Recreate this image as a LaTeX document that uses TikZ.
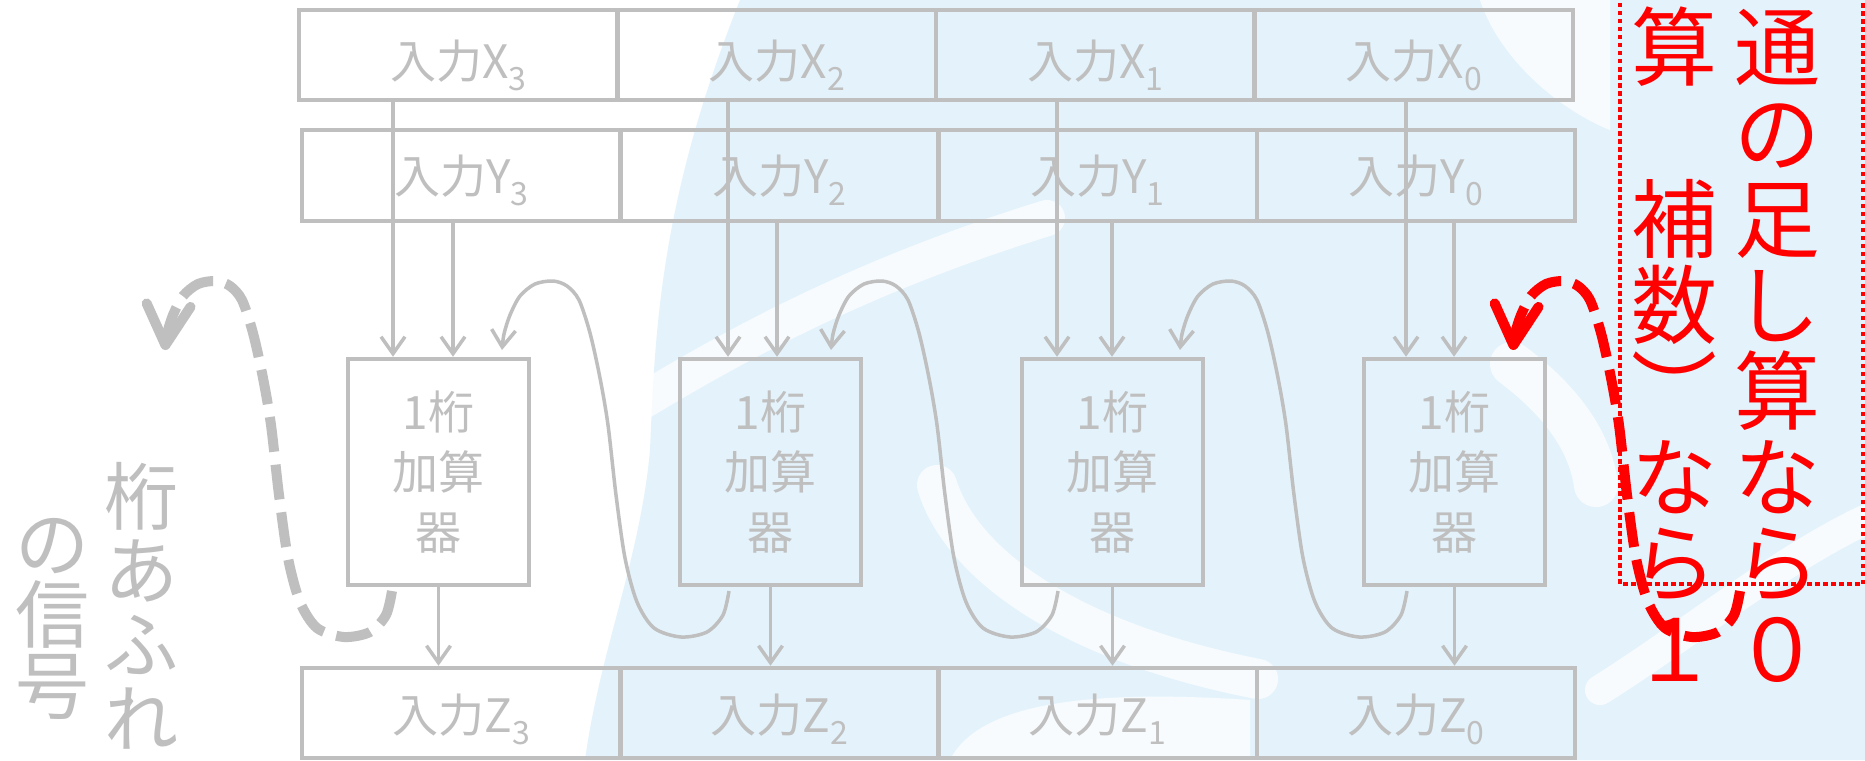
\documentclass[tikz,border=0pt]{standalone}
\usepackage{fontspec}
\setmainfont{Noto Sans CJK JP}
\usetikzlibrary{arrows.meta}
\definecolor{lg}{HTML}{BFBFBF}
\definecolor{bgblue}{HTML}{E4F3FB}
\newcommand\lsub[1]{\raisebox{-12pt}{\fontsize{32}{32}\selectfont #1}}
\begin{document}
\begin{tikzpicture}[x=1pt,y=-1pt,
  cell/.style={draw=lg, line width=4.5pt, inner sep=0pt, text=lg,
    font=\fontsize{46}{46}\selectfont, minimum height=90pt},
  xcell/.style={cell, minimum width=318.5pt, text height=48pt, text depth=2pt},
  ycell/.style={cell, minimum width=318.25pt, minimum height=91pt, text height=38.5pt, text depth=3.5pt},
  zcell/.style={cell, minimum width=318.25pt, text height=41pt, text depth=3pt},
  adder/.style={draw=lg, line width=4.5pt, inner sep=0pt, text=lg, align=center,
    font=\fontsize{46}{60}\selectfont, minimum width=181pt, minimum height=226pt},
  arr/.style={draw=lg, line width=3.5pt, -{Straight Barb[length=17pt,width=24pt]}},
  gdash/.style={draw=lg, line width=10pt, dash pattern=on 35pt off 13pt,
    -{Straight Barb[length=40pt,width=44pt,round]}},
  rdash/.style={gdash, draw=red},
  rtext/.style={text=red, inner sep=0pt, anchor=base, font=\fontsize{86}{86}\selectfont},
  gtext/.style={text=lg, inner sep=0pt, anchor=base, font=\fontsize{74}{74}\selectfont},
  swirl/.style={white, opacity=0.75, line cap=round},
]
\useasboundingbox (0,0) rectangle (1865,760);
\fill[white] (0,0) rectangle (1865,760);
% watermark background
\fill[bgblue] (740,0) -- (1865,0) -- (1865,760) -- (585,760)
  .. controls (600,650) and (640,560) .. (650,450)
  .. controls (655,330) and (660,200) .. (740,0) -- cycle;
\draw[swirl, line width=36pt] (641,402) .. controls (760,330) and (880,270) .. (1047,218);
\draw[swirl, line width=40pt] (937,485) .. controls (960,560) and (1060,640) .. (1258,679);
\draw[swirl, line width=44pt] (1512,364) .. controls (1560,400) and (1590,440) .. (1596,485);
\fill[swirl] (1480,0) .. controls (1500,60) and (1560,110) .. (1610,130) -- (1610,0) -- cycle;
\fill[swirl] (950,760) .. controls (980,700) and (1100,690) .. (1250,700) -- (1250,760) -- cycle;
\draw[swirl, line width=30pt] (1600,690) .. controls (1680,640) and (1780,560) .. (1865,520);

% input / output rows
\node[xcell] (x3) at (458.25,55) {入力X\lsub{3}};
\node[xcell] (x2) at (776.75,55) {入力X\lsub{2}};
\node[xcell] (x1) at (1095.25,55) {入力X\lsub{1}};
\node[xcell] (x0) at (1413.75,55) {入力X\lsub{0}};
\node[ycell] (y3) at (461.125,175.5) {入力Y\lsub{3}};
\node[ycell] (y2) at (779.375,175.5) {入力Y\lsub{2}};
\node[ycell] (y1) at (1097.625,175.5) {入力Y\lsub{1}};
\node[ycell] (y0) at (1415.875,175.5) {入力Y\lsub{0}};
\node[zcell] (z3) at (461.125,713) {入力Z\lsub{3}};
\node[zcell] (z2) at (779.375,713) {入力Z\lsub{2}};
\node[zcell] (z1) at (1097.625,713) {入力Z\lsub{1}};
\node[zcell] (z0) at (1415.875,713) {入力Z\lsub{0}};

% adders
\node[adder] (a3) at (438.5,472) {1桁\\加算\\器};
\node[adder] (a2) at (770.5,472) {1桁\\加算\\器};
\node[adder] (a1) at (1112.5,472) {1桁\\加算\\器};
\node[adder] (a0) at (1454.5,472) {1桁\\加算\\器};

% straight connectors
\foreach \n/\xa/\ya in {3/393/453, 2/728/777, 1/1057/1112, 0/1406/1454}{
  \coordinate (px\n) at (\xa,0);
  \coordinate (py\n) at (\ya,0);
  \draw[arr] (x\n.south -| px\n) -- (a\n.north -| px\n);
  \draw[arr] (y\n.south -| py\n) -- (a\n.north -| py\n);
  \draw[arr] (a\n.south) -- (a\n.south |- z\n.north);
}

% carry connectors
\foreach \sx/\sty in {729/arr, 1058/arr, 1407/arr, 392/gdash, 1740/rdash}{
  \draw[\sty, shift={(\sx,0)}] plot[smooth, tension=0.5] coordinates {
    (0,591) (-6,615) (-22,632) (-48,637) (-75,628) (-92,602) (-104,558)
    (-113,495) (-121,425) (-129,378) (-139,333) (-150,300) (-162,286)
    (-176,281) (-194,284) (-209,296) (-219,315) (-225,334) (-227,350)};
}

% red dotted frame
\draw[red, line width=4.5pt, dash pattern=on 4.5pt off 3.5pt]
  (1620,-5) -- (1620,584) -- (1863,584) -- (1863,-5);

% red vertical text
\foreach \c [count=\i from 0] in {算,{},補,数,︶,な,ら,１}
  \node[rtext] (rl\i) at (1674,79+86*\i) {\c};
\foreach \c [count=\i from 0] in {通,の,足,し,算,な,ら,０}
  \node[rtext] (rr\i) at (1777,79+86*\i) {\c};

% grey vertical text
\foreach \c [count=\i from 0] in {桁,あ,ふ,れ}
  \node[gtext] (gr\i) at (141,524+74*\i) {\c};
\foreach \c [count=\i from 0] in {の,信,号}
  \node[gtext] (gl\i) at (52,571+71*\i) {\c};
\end{tikzpicture}
\end{document}
